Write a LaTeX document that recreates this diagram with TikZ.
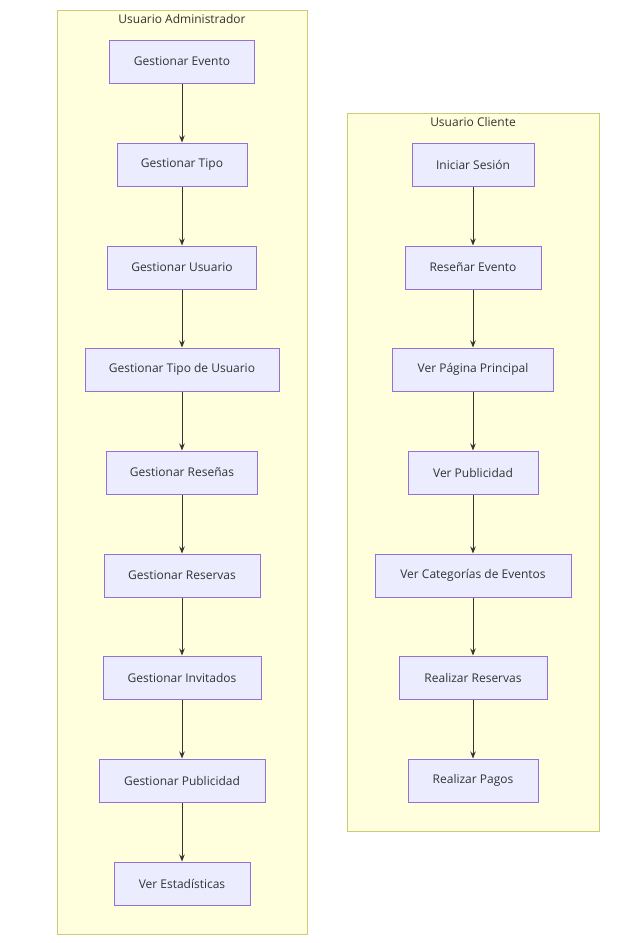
\documentclass[tikz,border=0pt]{standalone}
\usepackage{fontspec}
\setmainfont{Open Sans}
\usetikzlibrary{arrows.meta}
\definecolor{clfill}{HTML}{FFFFDE}
\definecolor{cldraw}{HTML}{CCCC77}
\definecolor{ndfill}{HTML}{ECECFF}
\definecolor{nddraw}{HTML}{9370DB}
\definecolor{txt}{HTML}{333333}
\tikzset{
  cluster/.style={draw=cldraw, fill=clfill, line width=1pt},
  box/.style={draw=nddraw, fill=ndfill, line width=1pt, minimum height=43pt, inner sep=0pt, text=txt, font=\fontsize{12}{14}\selectfont},
  ctitle/.style={text=txt, font=\fontsize{12}{14}\selectfont, inner sep=0pt},
  flow/.style={draw=txt, line width=0.9pt, -{Stealth[length=7pt,width=5.5pt]}}
}
\begin{document}
\begin{tikzpicture}[x=1pt,y=-1pt]
\useasboundingbox (0,0) rectangle (635,943);
\fill[white] (0,0) rectangle (635,943);
\draw[cluster] (57,10) rectangle (307,934);
\draw[cluster] (347,113) rectangle (599,831);
\node[ctitle] (t1) at (182,19) {Usuario Administrador};
\node[ctitle] (t2) at (473,122) {Usuario Cliente};
% left
\node[box, minimum width=145pt] (a1) at (182,61.5) {Gestionar Evento};
\node[box, minimum width=130pt] (a2) at (182,164.5) {Gestionar Tipo};
\node[box, minimum width=149pt] (a3) at (182,267.5) {Gestionar Usuario};
\node[box, minimum width=194pt] (a4) at (182,369.5) {Gestionar Tipo de Usuario};
\node[box, minimum width=151pt] (a5) at (182,472.5) {Gestionar Reseñas};
\node[box, minimum width=156pt] (a6) at (182,575.5) {Gestionar Reservas};
\node[box, minimum width=158pt] (a7) at (182,677.5) {Gestionar Invitados};
\node[box, minimum width=166pt] (a8) at (182,780.5) {Gestionar Publicidad};
\node[box, minimum width=136pt] (a9) at (182,883.5) {Ver Estadísticas};
% right
\node[box, minimum width=122pt] (b1) at (473,164.5) {Iniciar Sesión};
\node[box, minimum width=136pt] (b2) at (473,267.5) {Reseñar Evento};
\node[box, minimum width=161pt] (b3) at (473,369.5) {Ver Página Principal};
\node[box, minimum width=130pt] (b4) at (473,472.5) {Ver Publicidad};
\node[box, minimum width=196pt] (b5) at (473,575.5) {Ver Categorías de Eventos};
\node[box, minimum width=148pt] (b6) at (473,677.5) {Realizar Reservas};
\node[box, minimum width=130pt] (b7) at (473,780.5) {Realizar Pagos};
\foreach \i/\j in {1/2,2/3,3/4,4/5,5/6,6/7,7/8,8/9} {\draw[flow] (a\i.south) -- (a\j.north);}
\foreach \i/\j in {1/2,2/3,3/4,4/5,5/6,6/7} {\draw[flow] (b\i.south) -- (b\j.north);}
\end{tikzpicture}
\end{document}
